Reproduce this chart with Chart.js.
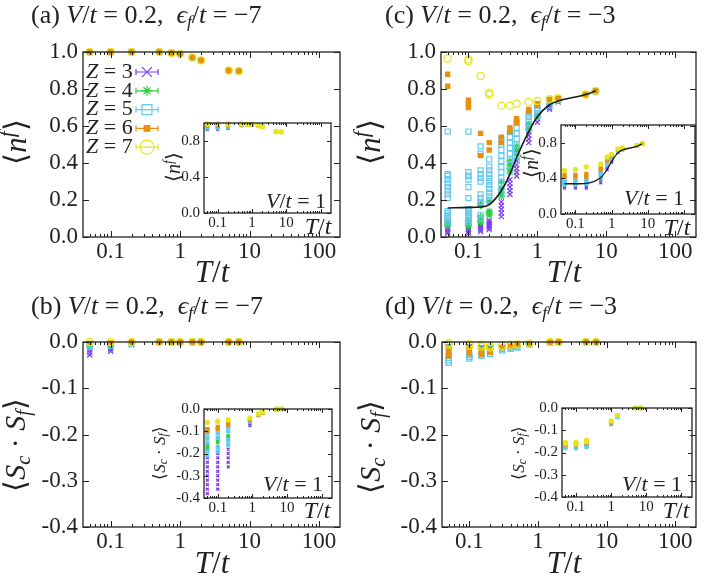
<!DOCTYPE html>
<html>
<head>
<meta charset="utf-8">
<script src="https://cdn.jsdelivr.net/npm/chart.js@4.4.1/dist/chart.umd.min.js"></script>
<style>
  body { margin: 0; background: #fff; }
  #fig { position: relative; width: 708px; height: 579px; overflow: hidden;
         font-family: 'Liberation Serif', serif; color: #222; }
  canvas { position: absolute; }
  .t { position: absolute; white-space: nowrap; line-height: 1; transform: translate(-50%, -50%); }
  .r { transform: translate(-50%, -50%) rotate(-90deg); }
  .l { transform: none; }
  sub, sup { font-size: 0.68em; line-height: 0; }
  sub { vertical-align: -0.25em; }
  sup { vertical-align: 0.55em; }
</style>
</head>
<body>
<div id="fig">
  <canvas id="ca" width="350" height="240" style="left:0;top:30px"></canvas>
  <canvas id="cc" width="354" height="240" style="left:354px;top:30px"></canvas>
  <canvas id="cb" width="350" height="240" style="left:0;top:320px"></canvas>
  <canvas id="cd" width="354" height="240" style="left:354px;top:320px"></canvas>
  <canvas id="ia" width="190" height="125" style="left:150px;top:110px"></canvas>
  <canvas id="ic" width="200" height="125" style="left:505px;top:112px"></canvas>
  <canvas id="ib" width="190" height="125" style="left:150px;top:396px"></canvas>
  <canvas id="id" width="195" height="125" style="left:505px;top:395px"></canvas>

  <div class="t l" style="left:31px;top:2px;font-size:26px">(a) <i>V</i>/<i>t</i> = 0.2,&nbsp; <i>ϵ<sub>f</sub></i>/<i>t</i> = −7</div>
  <div class="t l" style="left:385px;top:2px;font-size:26px">(c) <i>V</i>/<i>t</i> = 0.2,&nbsp; <i>ϵ<sub>f</sub></i>/<i>t</i> = −3</div>
  <div class="t l" style="left:31px;top:293px;font-size:26px">(b) <i>V</i>/<i>t</i> = 0.2,&nbsp; <i>ϵ<sub>f</sub></i>/<i>t</i> = −7</div>
  <div class="t l" style="left:385px;top:293px;font-size:26px">(d) <i>V</i>/<i>t</i> = 0.2,&nbsp; <i>ϵ<sub>f</sub></i>/<i>t</i> = −3</div>

  <div class="t" style="left:212px;top:271px;font-size:31px"><i>T</i>/<i>t</i></div>
  <div class="t" style="left:564px;top:271px;font-size:31px"><i>T</i>/<i>t</i></div>
  <div class="t" style="left:212px;top:562px;font-size:31px"><i>T</i>/<i>t</i></div>
  <div class="t" style="left:564px;top:562px;font-size:31px"><i>T</i>/<i>t</i></div>

  <div class="t r" style="left:15px;top:142px;font-size:31px">⟨<i>n</i><sup><i>f</i></sup>⟩</div>
  <div class="t r" style="left:369px;top:142px;font-size:31px">⟨<i>n</i><sup><i>f</i></sup>⟩</div>
  <div class="t r" style="left:15px;top:445px;font-size:30px">⟨<i>S<sub>c</sub></i> · <i>S<sub>f</sub></i>⟩</div>
  <div class="t r" style="left:370px;top:447px;font-size:30px">⟨<i>S<sub>c</sub></i> · <i>S<sub>f</sub></i>⟩</div>

  <div class="t r" style="left:173px;top:167px;font-size:20px">⟨<i>n</i><sup><i>f</i></sup>⟩</div>
  <div class="t" style="left:318px;top:226px;font-size:24px"><i>T</i>/<i>t</i></div>
  <div class="t" style="left:296px;top:201px;font-size:22px"><i>V</i>/<i>t</i> = 1</div>

  <div class="t r" style="left:531px;top:163px;font-size:20px">⟨<i>n</i><sup><i>f</i></sup>⟩</div>
  <div class="t" style="left:677px;top:227px;font-size:24px"><i>T</i>/<i>t</i></div>
  <div class="t" style="left:654px;top:198px;font-size:22px"><i>V</i>/<i>t</i> = 1</div>

  <div class="t r" style="left:159px;top:453px;font-size:17px">⟨<i>S<sub>c</sub></i> · <i>S<sub>f</sub></i>⟩</div>
  <div class="t" style="left:317px;top:510px;font-size:24px"><i>T</i>/<i>t</i></div>
  <div class="t" style="left:293px;top:484px;font-size:22px"><i>V</i>/<i>t</i> = 1</div>

  <div class="t r" style="left:518px;top:453px;font-size:17px">⟨<i>S<sub>c</sub></i> · <i>S<sub>f</sub></i>⟩</div>
  <div class="t" style="left:676px;top:510px;font-size:24px"><i>T</i>/<i>t</i></div>
  <div class="t" style="left:652px;top:484px;font-size:22px"><i>V</i>/<i>t</i> = 1</div>
</div>

<script>
// coordination numbers and their marker look
const Z_VALUES = [3, 4, 5, 6, 7];
const Z_COLORS = ['#7b3cf2', '#30cd40', '#62c9f0', '#e8900c', '#e6e61c'];
const Z_STYLES = ['crossRot', 'star', 'rect', 'rect', 'circle'];
const Z_FILLED = [false, false, false, true, false];

const X_TICKS_MAIN = [0.1, 1, 10, 100];
const X_TICKS_INSET = [0.1, 1, 10];

// temperatures
const T_A = [0.05, 0.1, 0.2, 0.5, 0.75, 1, 1.5, 2, 5, 7];
const T_C = [0.05, 0.1, 0.15, 0.2, 0.3, 0.4, 0.5, 0.75, 1, 1.5, 2, 5, 7];
const T_CIN = [0.05, 0.1, 0.2, 0.5, 0.75, 1, 1.5, 2, 5, 7];
const T_BIN = [0.05, 0.1, 0.2, 0.85, 1.5, 2, 5, 7];
const T_D = [0.05, 0.1, 0.15, 0.2, 0.3, 0.4, 0.5, 0.75, 1.5, 2, 5, 7];
const T_DIN = [0.05, 0.1, 0.2, 1, 1.5, 5, 7];

// (a) <n^f>, V/t=0.2, ef/t=-7 (all Z on top of each other)
const nfA = [1.0, 1.0, 1.0, 1.0, 0.995, 0.99, 0.97, 0.955, 0.9, 0.897];
// (a) inset, V/t=1
const nfAin3 = [0.93, 0.93, 0.94, 0.97, 0.98, 0.98, 0.97, 0.96, 0.905, 0.9];
const nfAin4 = [0.94, 0.94, 0.95, 0.975, 0.98, 0.98, 0.97, 0.96, 0.905, 0.9];
const nfAin5 = [0.955, 0.955, 0.96, 0.98, 0.98, 0.98, 0.97, 0.96, 0.905, 0.9];
const nfAin6 = [0.97, 0.97, 0.975, 0.985, 0.985, 0.985, 0.97, 0.96, 0.905, 0.9];
const nfAin7 = [0.99, 0.99, 0.99, 0.99, 0.985, 0.985, 0.97, 0.96, 0.905, 0.9];

// (c) <n^f>, V/t=0.2, ef/t=-3
const nfC3 = [[0.02, 0.03, 0.04, 0.05], [0.02, 0.03, 0.04, 0.05, 0.06], [0.03, 0.04, 0.05, 0.06, 0.07],
  [0.04, 0.05, 0.06, 0.07, 0.08, 0.09], [0.11, 0.13, 0.15, 0.17, 0.19], [0.23, 0.25, 0.27, 0.29, 0.31],
  [0.33, 0.35, 0.37, 0.39, 0.41], [0.51, 0.53, 0.55, 0.57], [0.62, 0.64], [0.69, 0.7], [0.73], [0.77], [0.785]];
const nfC4 = [[0.06, 0.07, 0.08], [0.06, 0.07, 0.08, 0.09], [0.08, 0.09, 0.11, 0.17, 0.18],
  [0.12, 0.13, 0.14, 0.19], [0.22, 0.24, 0.26, 0.3], [0.35, 0.37, 0.39, 0.41], [0.45, 0.47, 0.49],
  [0.58, 0.6, 0.61], [0.65, 0.66], [0.72], [0.74], [0.77], [0.785]];
const nfC5 = [[0.08, 0.09, 0.1, 0.11, 0.12, 0.13, 0.14, 0.21, 0.23, 0.25, 0.27, 0.29, 0.31, 0.33, 0.34, 0.57],
  [0.08, 0.09, 0.1, 0.11, 0.12, 0.13, 0.14, 0.15, 0.21, 0.27, 0.31, 0.33, 0.35, 0.57],
  [0.1, 0.12, 0.19, 0.21, 0.23, 0.3, 0.32, 0.34, 0.36, 0.45, 0.49],
  [0.2, 0.22, 0.24, 0.26, 0.28, 0.3, 0.32, 0.34, 0.36, 0.38, 0.42],
  [0.23, 0.26, 0.29, 0.32, 0.35, 0.38, 0.41, 0.44, 0.47, 0.5, 0.53],
  [0.36, 0.39, 0.42, 0.45, 0.48, 0.51, 0.54, 0.57],
  [0.41, 0.44, 0.47, 0.5, 0.53, 0.56, 0.59, 0.62],
  [0.59, 0.61, 0.63, 0.65, 0.67], [0.65, 0.67, 0.69, 0.71], [0.71, 0.73], [0.745], [0.77], [0.79]];
const nfC6 = [[0.815, 0.88], [0.7, 0.72, 0.74], [0.44, 0.56], [0.47, 0.51], [0.51, 0.54], [0.57, 0.59],
  [0.62, 0.64], [0.68, 0.69], [0.71, 0.72], [0.745], [0.75], [0.77], [0.79]];
const nfC7 = [[0.965], [0.95, 0.96], [0.87], [0.77, 0.78], [0.71], [0.71], [0.72], [0.73], [0.735],
  [0.745], [0.75], [0.77], [0.79]];
const nfCline = [0.157, 0.16, 0.162, 0.175, 0.25, 0.34, 0.43, 0.57, 0.65, 0.715, 0.735, 0.77, 0.79];
// (c) inset, V/t=1
const nfCin3 = [[0.29, 0.31], [0.29, 0.31], [0.29, 0.31], [0.35, 0.38], [0.5, 0.53], [0.58, 0.6], [0.69], [0.72], [0.76], [0.79]];
const nfCin4 = [[0.33], [0.33], [0.34], [0.4], [0.55], [0.62], [0.7], [0.73], [0.765], [0.79]];
const nfCin5 = [[0.33, 0.35, 0.37, 0.39], [0.33, 0.35, 0.37, 0.39], [0.34, 0.36, 0.38, 0.4], [0.42, 0.45, 0.48],
  [0.55, 0.58], [0.62, 0.64], [0.71], [0.73], [0.77], [0.79]];
const nfCin6 = [[0.42, 0.44], [0.42, 0.44], [0.42, 0.45], [0.5, 0.52], [0.6, 0.62], [0.65, 0.66], [0.72], [0.735], [0.77], [0.79]];
const nfCin7 = [[0.49], [0.5], [0.53], [0.56], [0.64], [0.67], [0.73], [0.74], [0.77], [0.79]];
const nfCinLine = [0.34, 0.34, 0.345, 0.41, 0.5, 0.59, 0.69, 0.72, 0.76, 0.79];

// (b) <Sc.Sf>, V/t=0.2, ef/t=-7
const scB3 = [[-0.028, -0.022, -0.016], [-0.02, -0.015], [-0.006], [0], [0], [0], [0], [0], [0], [0]];
const scB4 = [[-0.01], [-0.008], [-0.003], [0], [0], [0], [0], [0], [0], [0]];
const scB5 = [[-0.01, -0.006], [-0.008], [-0.004], [0], [0], [0], [0], [0], [0], [0]];
const scB6 = [[-0.003], [-0.002], [0], [0], [0], [0], [0], [0], [0], [0]];
const scB7 = [[0], [0], [0], [0], [0], [0], [0], [0], [0], [0]];
// (b) inset, V/t=1
const scBin3 = [[-0.22, -0.24, -0.26, -0.28, -0.3, -0.32, -0.34, -0.36, -0.38],
  [-0.2, -0.22, -0.24, -0.26, -0.28, -0.3, -0.32, -0.34, -0.36],
  [-0.16, -0.18, -0.2, -0.22, -0.24, -0.26], [-0.065, -0.075], [-0.03], [-0.02], [-0.003], [-0.001]];
const scBin4 = [[-0.16, -0.17, -0.18], [-0.14, -0.15], [-0.12, -0.13], [-0.06], [-0.028], [-0.018], [-0.002], [0]];
const scBin5 = [[-0.09, -0.11, -0.13, -0.15, -0.19, -0.21], [-0.09, -0.11, -0.13, -0.17, -0.19],
  [-0.08, -0.1, -0.14, -0.16], [-0.055], [-0.027], [-0.016], [-0.002], [0]];
const scBin6 = [[-0.09, -0.1], [-0.08, -0.09], [-0.065, -0.07], [-0.05], [-0.025], [-0.015], [-0.002], [0]];
const scBin7 = [[-0.06], [-0.055], [-0.048], [-0.04], [-0.022], [-0.013], [0], [0]];

// (d) <Sc.Sf>, V/t=0.2, ef/t=-3
const scD3 = [[-0.01], [-0.01], [-0.012], [-0.013], [-0.012], [-0.01], [-0.008], [-0.004], [-0.001], [0], [0], [0]];
const scD4 = [[-0.012], [-0.012], [-0.014], [-0.015], [-0.013], [-0.011], [-0.009], [-0.005], [-0.001], [0], [0], [0]];
const scD5 = [[-0.03, -0.035, -0.04, -0.045], [-0.028, -0.032, -0.036], [-0.026, -0.03], [-0.022, -0.026],
  [-0.015, -0.018], [-0.012, -0.015], [-0.01, -0.012], [-0.005], [-0.002], [-0.001], [0], [0]];
const scD6 = [[-0.015, -0.02, -0.025, -0.03], [-0.015, -0.02, -0.025], [-0.018, -0.022, -0.027], [-0.018, -0.022],
  [-0.012], [-0.009], [-0.007], [-0.004], [-0.001], [0], [0], [0]];
const scD7 = [[-0.002, -0.006], [-0.004, -0.008], [-0.006, -0.01], [-0.008, -0.012], [-0.008], [-0.006],
  [-0.005], [-0.003], [0], [0], [0], [0]];
// (d) inset, V/t=1
const scDin3 = [[-0.175], [-0.175], [-0.17], [-0.075], [-0.04], [0], [0]];
const scDin4 = [[-0.17], [-0.17], [-0.165], [-0.068], [-0.038], [0], [0]];
const scDin5 = [[-0.175, -0.18], [-0.175, -0.18], [-0.17, -0.175], [-0.07], [-0.04], [0], [0]];
const scDin6 = [[-0.165], [-0.165], [-0.16], [-0.065], [-0.035], [0], [0]];
const scDin7 = [[-0.155, -0.16], [-0.155, -0.16], [-0.145, -0.15], [-0.058], [-0.033], [0], [0]];

const FONT = "'Liberation Serif', serif";

// flatten T list + (possibly several) values per T into scatter points
function pts(ts, ys) {
  const out = [];
  ts.forEach((t, i) => {
    const v = ys[i];
    (Array.isArray(v) ? v : [v]).forEach(y => out.push({ x: t, y: y }));
  });
  return out;
}

function zSets(ts, lists, small) {
  return lists.map((ys, k) => ({
    label: 'Z = ' + Z_VALUES[k],
    zValue: Z_VALUES[k],
    data: pts(ts, ys),
    showLine: false,
    pointStyle: Z_STYLES[k],
    pointRadius: small ? 2 : (k === 3 ? 3 : 3.6),
    pointBorderWidth: small ? 1.4 : 1.2,
    pointBorderColor: Z_COLORS[k],
    pointBackgroundColor: (Z_FILLED[k] || small) ? Z_COLORS[k] : 'rgba(0,0,0,0)',
    order: 10 - k,
    clip: false
  }));
}

function curve(ts, ys, w) {
  return {
    type: 'line', data: pts(ts, ys), borderColor: '#1a1a1a', borderWidth: w,
    pointRadius: 0, cubicInterpolationMode: 'monotone', order: 0, clip: false
  };
}

// gnuplot-like frame with inward ticks on all four sides
const framePlugin = {
  id: 'frame',
  afterDraw(chart, args, o) {
    const ctx = chart.ctx, a = chart.chartArea;
    const xs = chart.scales.x, ys = chart.scales.y;
    ctx.save();
    ctx.strokeStyle = '#222';
    ctx.lineWidth = 1;
    ctx.beginPath();
    for (let e = -2; e <= 2; e++) {
      for (let m = 1; m <= 9; m++) {
        const v = m * Math.pow(10, e);
        if (v <= xs.min || v >= xs.max) continue;
        const px = Math.round(xs.getPixelForValue(v)) + 0.5;
        const len = m === 1 ? o.major : o.minor;
        ctx.moveTo(px, a.bottom); ctx.lineTo(px, a.bottom - len);
        ctx.moveTo(px, a.top); ctx.lineTo(px, a.top + len);
      }
    }
    ys.ticks.forEach(t => {
      const py = Math.round(ys.getPixelForValue(t.value)) + 0.5;
      ctx.moveTo(a.left, py); ctx.lineTo(a.left + o.major, py);
      ctx.moveTo(a.right, py); ctx.lineTo(a.right - o.major, py);
    });
    ctx.stroke();
    ctx.lineWidth = 1.3;
    ctx.strokeRect(a.left, a.top, a.right - a.left, a.bottom - a.top);
    ctx.restore();
  }
};

// key with error-bar samples, as in panel (a)
const keyPlugin = {
  id: 'key',
  afterDraw(chart, args, o) {
    if (!o || !o.show) return;
    const ctx = chart.ctx, a = chart.chartArea;
    const sets = chart.data.datasets.filter(d => d.zValue !== undefined);
    ctx.save();
    sets.forEach((d, i) => {
      const y = a.top + o.top + i * o.step;
      let x = a.left + o.left;
      ctx.fillStyle = '#222';
      ctx.textBaseline = 'middle';
      ctx.font = 'italic ' + o.size + 'px ' + FONT;
      ctx.fillText('Z', x, y);
      x += ctx.measureText('Z').width;
      ctx.font = o.size + 'px ' + FONT;
      ctx.fillText(' = ' + d.zValue, x, y);
      const mx = a.left + o.mark, hw = 11;
      ctx.strokeStyle = d.pointBorderColor;
      ctx.lineWidth = 1.2;
      ctx.beginPath();
      ctx.moveTo(mx - hw, y); ctx.lineTo(mx + hw, y);
      ctx.moveTo(mx - hw, y - 3); ctx.lineTo(mx - hw, y + 3);
      ctx.moveTo(mx + hw, y - 3); ctx.lineTo(mx + hw, y + 3);
      ctx.stroke();
      ctx.fillStyle = Z_FILLED[i] ? d.pointBorderColor : 'rgba(0,0,0,0)';
      Chart.helpers.drawPoint(ctx, {
        pointStyle: d.pointStyle, radius: o.radius[i], borderWidth: 1.2, rotation: 0
      }, mx, y);
    });
    ctx.restore();
  }
};

function makeChart(id, o) {
  return new Chart(document.getElementById(id), {
    type: 'scatter',
    data: { datasets: o.datasets },
    options: {
      responsive: false,
      animation: false,
      events: [],
      layout: { autoPadding: false, padding: { left: 0, top: o.pt, right: o.pr, bottom: 0 } },
      plugins: {
        legend: { display: false },
        tooltip: { enabled: false },
        frame: { major: o.inset ? 4 : 6, minor: o.inset ? 2 : 3 },
        key: o.key || { show: false }
      },
      scales: {
        x: {
          type: 'logarithmic', min: 0.04, max: 200,
          grid: { display: false, drawTicks: false },
          border: { display: false },
          afterBuildTicks: s => { s.ticks = o.xTicks.map(v => ({ value: v })); },
          afterFit: s => { s.height = o.xh; },
          ticks: {
            autoSkip: false, maxRotation: 0, padding: o.xpad, color: '#222',
            font: { family: FONT, size: o.fs },
            callback: v => String(v)
          }
        },
        y: {
          min: o.yMin, max: o.yMax,
          grid: { display: false, drawTicks: false },
          border: { display: false },
          afterFit: s => { s.width = o.yw; },
          ticks: {
            stepSize: o.yStep, padding: o.ypad, color: '#222',
            font: { family: FONT, size: o.fs },
            callback: v => (Math.abs(v) < 1e-9 ? 0 : v).toFixed(1)
          }
        }
      }
    },
    plugins: [framePlugin, keyPlugin]
  });
}

const MAIN = { xTicks: X_TICKS_MAIN, fs: 23, xpad: 1, ypad: 5, pt: 22, xh: 33 };
const INSET = { xTicks: X_TICKS_INSET, fs: 15, xpad: 1, ypad: 4, pt: 11, inset: true };

makeChart('ca', Object.assign({}, MAIN, {
  yw: 83, pr: 10, yMin: 0, yMax: 1, yStep: 0.2,
  datasets: zSets(T_A, [nfA, nfA, nfA, nfA, nfA], false),
  key: { show: true, left: 3, top: 20, step: 18.8, size: 22, mark: 64, radius: [7, 5, 7, 4, 7] }
}));
makeChart('cc', Object.assign({}, MAIN, {
  yw: 87, pr: 12, yMin: 0, yMax: 1, yStep: 0.2,
  datasets: zSets(T_C, [nfC3, nfC4, nfC5, nfC6, nfC7], false).concat([curve(T_C, nfCline, 1.6)])
}));
makeChart('cb', Object.assign({}, MAIN, {
  yw: 83, pr: 10, yMin: -0.4, yMax: 0, yStep: 0.1,
  datasets: zSets(T_A, [scB3, scB4, scB5, scB6, scB7], false)
}));
makeChart('cd', Object.assign({}, MAIN, {
  yw: 88, pr: 12, yMin: -0.4, yMax: 0, yStep: 0.1,
  datasets: zSets(T_D, [scD3, scD4, scD5, scD6, scD7], false)
}));

makeChart('ia', Object.assign({}, INSET, {
  yw: 54, pr: 9, xh: 22, yMin: 0, yMax: 1, yStep: 0.2,
  datasets: zSets(T_A, [nfAin3, nfAin4, nfAin5, nfAin6, nfAin7], true)
}));
makeChart('ic', Object.assign({}, INSET, {
  yw: 56, pr: 10, xh: 23, yMin: 0, yMax: 1, yStep: 0.2,
  datasets: zSets(T_CIN, [nfCin3, nfCin4, nfCin5, nfCin6, nfCin7], true).concat([curve(T_CIN, nfCinLine, 1.3)])
}));
makeChart('ib', Object.assign({}, INSET, {
  yw: 54, pr: 8, xh: 23, yMin: -0.4, yMax: 0, yStep: 0.1,
  datasets: zSets(T_BIN, [scBin3, scBin4, scBin5, scBin6, scBin7], true)
}));
makeChart('id', Object.assign({}, INSET, {
  yw: 57, pr: 8, xh: 23, yMin: -0.4, yMax: 0, yStep: 0.1,
  datasets: zSets(T_DIN, [scDin3, scDin4, scDin5, scDin6, scDin7], true)
}));
</script>
</body>
</html>
